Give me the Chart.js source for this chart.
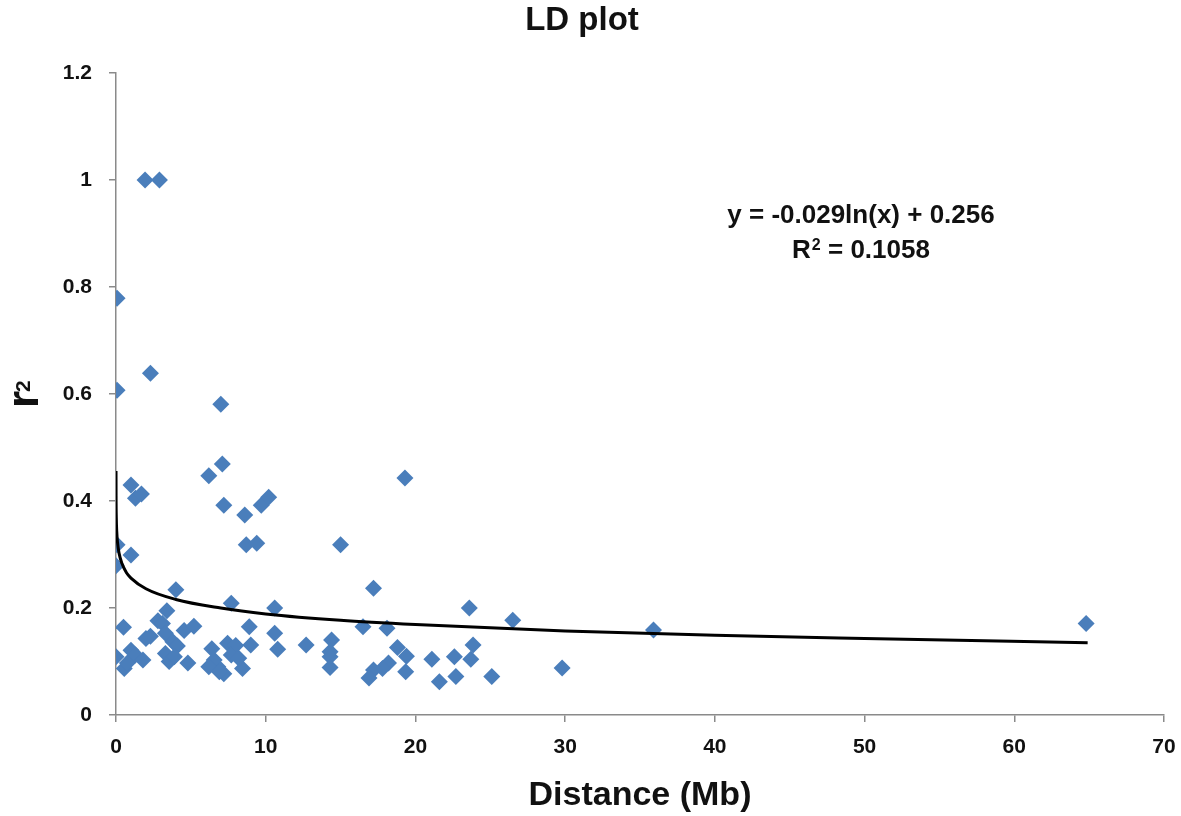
<!DOCTYPE html>
<html>
<head>
<meta charset="utf-8">
<title>LD plot</title>
<script src="https://cdn.jsdelivr.net/npm/chart.js@4/dist/chart.umd.min.js"></script>
<style>
  html, body { margin: 0; padding: 0; background: #fff; }
  #ld-chart { display: block; }
</style>
</head>
<body>
<canvas id="ld-chart" width="1181" height="816"></canvas>
<script>
// distance (Mb) of each marker pair
var distMb = [
  1.94, 2.9, 0.07, 0.07, 2.3, 7.0, 6.2, 7.1, 7.2, 19.3,
  1.0, 1.3, 1.7, 8.6, 9.7, 10.2, 8.7, 9.4, 15.0, 0.07,
  1.0, 0.0, 4.0, 7.7, 17.2, 23.6, 26.5, 35.9, 64.8, 10.6,
  3.4, 0.5, 2.8, 3.1, 4.55, 5.2, 8.9, 2.0, 2.3, 3.3,
  3.8, 4.1, 1.0, 1.3, 1.8, 0.0, 0.55, 0.76, 3.3, 3.55,
  3.9, 4.8, 6.4, 7.45, 8.0, 6.8, 7.2, 8.45, 6.56, 7.7,
  9.0, 6.2, 6.9, 8.2, 10.6, 10.8, 12.7, 14.4, 14.3, 14.3,
  14.3, 16.5, 18.1, 18.8, 19.4, 19.35, 18.2, 17.8, 17.2, 16.9,
  21.1, 21.6, 22.6, 22.7, 23.85, 23.7, 25.1, 29.8
];
// r^2 of each pair
var r2Values = [
  1.0, 1.0, 0.779, 0.607, 0.639, 0.581, 0.447, 0.469, 0.392, 0.443,
  0.43, 0.405, 0.413, 0.374, 0.392, 0.407, 0.318, 0.321, 0.318, 0.318,
  0.299, 0.279, 0.234, 0.209, 0.237, 0.2, 0.177, 0.159, 0.171, 0.2,
  0.195, 0.164, 0.176, 0.171, 0.158, 0.166, 0.165, 0.143, 0.147, 0.153,
  0.137, 0.129, 0.121, 0.112, 0.103, 0.109, 0.087, 0.097, 0.115, 0.1,
  0.109, 0.097, 0.124, 0.134, 0.13, 0.09, 0.077, 0.087, 0.103, 0.112,
  0.131, 0.09, 0.081, 0.106, 0.153, 0.123, 0.131, 0.14, 0.118, 0.109,
  0.089, 0.165, 0.162, 0.126, 0.11, 0.081, 0.097, 0.087, 0.084, 0.069,
  0.104, 0.062, 0.109, 0.072, 0.131, 0.104, 0.072, 0.088
];

// log trend line
var trendX = [0.001, 0.005, 0.02, 0.05, 0.1, 0.2, 0.4, 0.7, 1, 2, 4, 7, 10, 15, 20, 30, 40, 50, 64.9];
var trendY = [0.456, 0.410, 0.369, 0.343, 0.323, 0.303, 0.283, 0.266, 0.256, 0.236, 0.216, 0.200, 0.189, 0.177, 0.169, 0.157, 0.149, 0.143, 0.135];

var yTickLabels = ['0', '0.2', '0.4', '0.6', '0.8', '1', '1.2'];
var xTickLabels = ['0', '10', '20', '30', '40', '50', '60', '70'];

var eqLine1 = 'y = -0.029ln(x) + 0.256';
var eqLine2 = ['R', '2', ' = 0.1058'];

var pointBlue = '#4A7EBB';
var axisGrey = '#8a8a8a';
var fontFam = '"Liberation Sans", Arial, sans-serif';

var scatterPts = distMb.map(function(d, i) { return { x: d, y: r2Values[i] }; });
var trendPts = trendX.map(function(d, i) { return { x: d, y: trendY[i] }; });

// equation text and the r^2 axis title (superscripts drawn by hand)
var extraText = {
  id: 'extraText',
  afterDraw: function(chart) {
    var ctx = chart.ctx;
    var area = chart.chartArea;
    ctx.save();
    ctx.fillStyle = '#111';
    ctx.textBaseline = 'alphabetic';

    // trend line label, centred at one x
    var cx = area.left + 745;
    ctx.font = 'bold 26px ' + fontFam;
    ctx.textAlign = 'center';
    ctx.fillText(eqLine1, cx, area.top + 150);

    ctx.textAlign = 'left';
    ctx.font = 'bold 26px ' + fontFam;
    var wR = ctx.measureText(eqLine2[0]).width;
    var wRest = ctx.measureText(eqLine2[2]).width;
    ctx.font = 'bold 16px ' + fontFam;
    var wSup = ctx.measureText(eqLine2[1]).width + 1;
    var x0 = cx - (wR + wSup + wRest) / 2;
    var base2 = area.top + 185;
    ctx.font = 'bold 26px ' + fontFam;
    ctx.fillText(eqLine2[0], x0, base2);
    ctx.font = 'bold 16px ' + fontFam;
    ctx.fillText(eqLine2[1], x0 + wR + 1, base2 - 8);
    ctx.font = 'bold 26px ' + fontFam;
    ctx.fillText(eqLine2[2], x0 + wR + wSup, base2);

    // y axis title "r2", rotated
    var midY = (area.top + area.bottom) / 2;
    ctx.translate(38, midY + 14);
    ctx.rotate(-Math.PI / 2);
    ctx.font = 'bold 44px ' + fontFam;
    ctx.fillText('r', 0, 0);
    var wr = ctx.measureText('r').width;
    ctx.font = 'bold 21px ' + fontFam;
    ctx.fillText('2', wr - 1, -8);
    ctx.restore();
  }
};

var ctx = document.getElementById('ld-chart').getContext('2d');
var ldChart = new Chart(ctx, {
  type: 'scatter',
  data: {
    datasets: [{
      label: 'Log trend',
      type: 'line',
      data: trendPts,
      borderColor: '#000',
      borderWidth: 3,
      pointRadius: 0,
      fill: false,
      cubicInterpolationMode: 'monotone'
    }, {
      label: 'r2',
      data: scatterPts,
      pointStyle: 'rectRot',
      pointRadius: 8.5,
      pointHoverRadius: 8.5,
      backgroundColor: pointBlue,
      borderColor: pointBlue,
      borderWidth: 0
    }]
  },
  options: {
    responsive: false,
    animation: false,
    layout: { padding: { left: 0, right: 17, top: 0, bottom: 0 } },
    plugins: {
      legend: { display: false },
      tooltip: { enabled: false },
      title: {
        display: true,
        text: 'LD plot',
        color: '#111',
        font: { family: fontFam, size: 33, weight: 'bold', lineHeight: 1.2 },
        padding: { top: 1, bottom: 32.4 }
      }
    },
    scales: {
      x: {
        type: 'linear',
        min: 0,
        max: 70,
        grid: { drawOnChartArea: false, drawTicks: true, tickLength: 7, color: axisGrey, lineWidth: 1.5 },
        border: { display: true, color: axisGrey, width: 1.5 },
        ticks: {
          stepSize: 10,
          padding: 13,
          color: '#111',
          font: { family: fontFam, size: 21, weight: 'bold' },
          callback: function(v, i) { return xTickLabels[i]; }
        },
        title: {
          display: true,
          text: 'Distance (Mb)',
          color: '#111',
          font: { family: fontFam, size: 34, weight: 'bold', lineHeight: 1.2 },
          padding: { top: 0, bottom: 0 }
        },
        afterFit: function(scale) {
          scale.height = 101;
          scale.paddingLeft = 0;
          scale.paddingRight = 0;
        }
      },
      y: {
        type: 'linear',
        min: 0,
        max: 1.2,
        grid: { drawOnChartArea: false, drawTicks: true, tickLength: 7, color: axisGrey, lineWidth: 1.5 },
        border: { display: true, color: axisGrey, width: 1.5 },
        ticks: {
          stepSize: 0.2,
          padding: 17,
          color: '#111',
          font: { family: fontFam, size: 21, weight: 'bold' },
          callback: function(v, i) { return yTickLabels[i]; }
        },
        afterFit: function(scale) { scale.width = 116; }
      }
    }
  },
  plugins: [extraText]
});
</script>
</body>
</html>
